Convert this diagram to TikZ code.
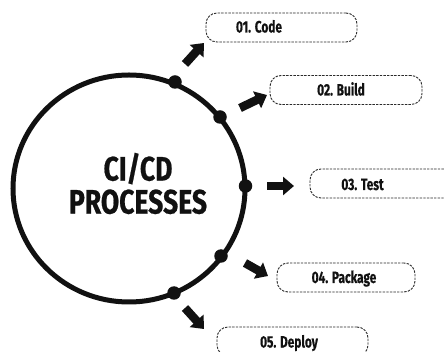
\documentclass[tikz,border=0pt]{standalone}
\usepackage{fontspec}
\usetikzlibrary{arrows.meta}
\newfontfamily\titlefont[FakeStretch=0.78,FakeBold=0.6]{Fira Sans}
\newfontfamily\boxfont[FakeStretch=0.72,FakeBold=0.4]{Fira Sans}
\definecolor{ink}{HTML}{111111}
\definecolor{dashcol}{HTML}{2A2A2A}
\tikzset{
  ring/.style={line width=5pt, draw=ink},
  stepdot/.style={circle, fill=ink, inner sep=0pt, minimum size=13.5pt},
  stepbox/.style={draw=dashcol, line width=0.9pt, dash pattern=on 2.4pt off 1.2pt,
    rounded corners=11pt, minimum height=29pt, inner sep=0pt},
  steptext/.style={anchor=base, text=ink, font=\boxfont\bfseries\fontsize{16.5}{18}\selectfont},
  blockarrow/.style={draw=ink, line width=8.5pt, line cap=butt,
    -{Triangle[width=18pt,length=11pt]}},
  titletext/.style={text=ink, align=center, font=\titlefont\bfseries\fontsize{34}{33}\selectfont}
}
\begin{document}
\begin{tikzpicture}[x=1pt,y=-1pt]
\useasboundingbox (0,0) rectangle (444,352);
\fill[white] (0,0) rectangle (444,352);
\clip (0,0) rectangle (444,352);
% main ring
\coordinate (c) at (129,188.5);
\draw[ring] (c) ellipse [x radius=116pt, y radius=113.5pt];
\node[titletext] (title) at (138,183.5) {CI/CD\\PROCESSES};
% dots on ring
\node[stepdot] (d1) at (175,82) {};
\node[stepdot] (d2) at (220,117) {};
\node[stepdot] (d3) at (245.5,186) {};
\node[stepdot] (d4) at (221,256) {};
\node[stepdot] (d5) at (174,293) {};
% boxes
\node[stepbox, minimum width=151pt] (b1) at (281.5,27.5) {};
\node[stepbox, minimum width=152pt] (b2) at (346,90) {};
\node[stepbox, minimum width=152pt] (b3) at (386,183.5) {};
\node[stepbox, minimum width=138pt] (b4) at (346,277.5) {};
\node[stepbox, minimum width=151pt] (b5) at (292.5,341.5) {};
% labels
\node[steptext] (t1) at (259,32.5) {01. Code};
\node[steptext] (t2) at (341,95.5) {02. Build};
\node[steptext] (t3) at (362.5,190) {03. Test};
\node[steptext] (t4) at (344,283) {04. Package};
\node[steptext] (t5) at (289,347.5) {05. Deploy};
% arrows
\coordinate (a1s) at (185,64); \coordinate (a1e) at (204,43);
\coordinate (a2s) at (240,108); \coordinate (a2e) at (267,95);
\coordinate (a3s) at (267,186); \coordinate (a3e) at (294,186);
\coordinate (a4s) at (245,263); \coordinate (a4e) at (268,276);
\coordinate (a5s) at (185,308); \coordinate (a5e) at (204,329);
\draw[blockarrow] (a1s) -- (a1e);
\draw[blockarrow] (a2s) -- (a2e);
\draw[blockarrow] (a3s) -- (a3e);
\draw[blockarrow] (a4s) -- (a4e);
\draw[blockarrow] (a5s) -- (a5e);
\end{tikzpicture}
\end{document}
